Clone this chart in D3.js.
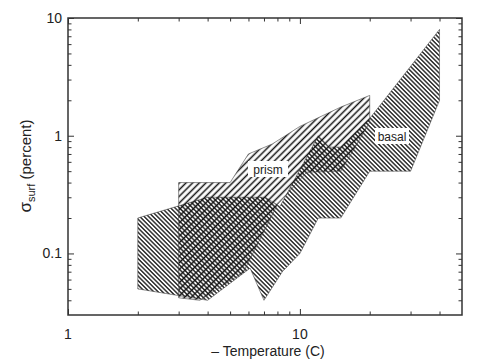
<!doctype html>
<html>
<head>
<meta charset="utf-8">
<script src="https://cdn.jsdelivr.net/npm/d3@7"></script>
<style>
  body { margin: 0; background: #fff; }
  text { font-family: "Liberation Sans", Arial, sans-serif; fill: #222; }
</style>
</head>
<body>
<svg width="485" height="364"></svg>
<script>
// temperature (C, negated) vs sigma_surf (percent), polygon outlines
var prismT   = [3, 5, 6, 7.6, 10, 15, 20, 20, 16.5, 15, 10.7, 8, 5.7, 3.7, 3];
var prismS   = [0.4, 0.4, 0.7, 0.85, 1.2, 1.75, 2.2, 1.3, 0.68, 0.5, 0.49, 0.26, 0.069, 0.04, 0.042];
var basalT   = [2, 4, 7.1, 8.2, 12, 13.4, 15, 20, 40, 40, 30, 20, 15, 12, 10, 8.4, 7, 6.1, 4, 2];
var basalS   = [0.2, 0.3, 0.3, 0.25, 1.0, 0.8, 0.8, 1.4, 8, 2, 0.5, 0.5, 0.2, 0.2, 0.1, 0.07, 0.04, 0.075, 0.04, 0.05];

var xMajor = [1, 10];
var xMinor = [2, 3, 4, 5, 6, 7, 8, 9, 20, 30, 40];
var yMajor = [0.1, 1, 10];
var yMinor = [0.04, 0.05, 0.06, 0.07, 0.08, 0.09, 0.2, 0.3, 0.4, 0.5, 0.6, 0.7, 0.8, 0.9, 2, 3, 4, 5, 6, 7, 8, 9];

var pL = 68, pR = 462, pT = 18, pB = 315;

var x = d3.scaleLog().domain([1, 50]).range([pL, pR]);
var y = d3.scaleLog().domain([0.03, 10]).range([pB, pT]);

var svg = d3.select("svg");
var defs = svg.append("defs");

function hatch(id, angle, gap, w) {
  defs.append("pattern")
    .attr("id", id)
    .attr("patternUnits", "userSpaceOnUse")
    .attr("width", gap).attr("height", gap)
    .attr("patternTransform", "rotate(" + angle + ")")
    .append("line")
      .attr("x1", gap / 2).attr("y1", -1)
      .attr("x2", gap / 2).attr("y2", gap + 1)
      .attr("stroke", "#111")
      .attr("stroke-width", w);
}
hatch("fwd", 45, 4.7, 1.5);
hatch("back", -45, 3.1, 1.3);

var line = d3.line()
  .x(function(d) { return x(d[0]); })
  .y(function(d) { return y(d[1]); })
  .curve(d3.curveLinearClosed);

var basal = d3.zip(basalT, basalS);
var prism = d3.zip(prismT, prismS);

svg.append("path").datum(basal)
  .attr("d", line)
  .attr("fill", "url(#back)")
  .attr("stroke", "#444").attr("stroke-width", 0.6);

svg.append("path").datum(prism)
  .attr("d", line)
  .attr("fill", "url(#fwd)")
  .attr("stroke", "#444").attr("stroke-width", 0.6);

// labels with white boxes
function label(txt, cx, cy, w) {
  svg.append("rect")
    .attr("x", cx - w / 2).attr("y", cy - 8)
    .attr("width", w).attr("height", 16)
    .attr("fill", "#fff");
  svg.append("text")
    .attr("x", cx).attr("y", cy + 4.5)
    .attr("text-anchor", "middle")
    .style("font-size", "12px")
    .text(txt);
}
label("prism", 268, 169, 40);
label("basal", 392, 136, 34);

// axes: ticks pointing inward on all four sides
function ticks(axis, vals, len, tf) {
  svg.append("g")
    .attr("transform", tf)
    .call(axis.tickValues(vals).tickSize(len).tickFormat(""))
    .call(function(g) {
      g.select(".domain").remove();
      g.selectAll(".tick line").attr("stroke", "#333").attr("stroke-width", 1);
    });
}
ticks(d3.axisBottom(x), xMajor, -6, "translate(0," + pB + ")");
ticks(d3.axisBottom(x), xMinor, -3.5, "translate(0," + pB + ")");
ticks(d3.axisTop(x), xMajor, -6, "translate(0," + pT + ")");
ticks(d3.axisTop(x), xMinor, -3.5, "translate(0," + pT + ")");
ticks(d3.axisLeft(y), yMajor, -6, "translate(" + pL + ",0)");
ticks(d3.axisLeft(y), yMinor, -3.5, "translate(" + pL + ",0)");
ticks(d3.axisRight(y), yMajor, -6, "translate(" + pR + ",0)");
ticks(d3.axisRight(y), yMinor, -3.5, "translate(" + pR + ",0)");

svg.append("rect")
  .attr("x", pL).attr("y", pT)
  .attr("width", pR - pL).attr("height", pB - pT)
  .attr("fill", "none").attr("stroke", "#333").attr("stroke-width", 1.5);

// tick labels
svg.selectAll(".xl").data(xMajor).enter().append("text")
  .attr("x", function(d) { return x(d); })
  .attr("y", pB + 24)
  .attr("text-anchor", "middle")
  .style("font-size", "14px")
  .text(function(d) { return d; });

svg.selectAll(".yl").data(yMajor).enter().append("text")
  .attr("x", pL - 6)
  .attr("y", function(d) { return y(d) + 5; })
  .attr("text-anchor", "end")
  .style("font-size", "14px")
  .text(function(d) { return d; });

// axis titles
svg.append("text")
  .attr("x", 268).attr("y", 356)
  .attr("text-anchor", "middle")
  .style("font-size", "14px")
  .text("\u2013 Temperature (C)");

var yt = svg.append("text")
  .attr("transform", "translate(31,166) rotate(-90)")
  .attr("text-anchor", "middle")
  .style("font-size", "15px");
yt.append("tspan").style("font-size", "17px").text("\u03c3");
yt.append("tspan").attr("dy", 4).style("font-size", "11px").text("surf");
yt.append("tspan").attr("dy", -4).text(" (percent)");
</script>
</body>
</html>
